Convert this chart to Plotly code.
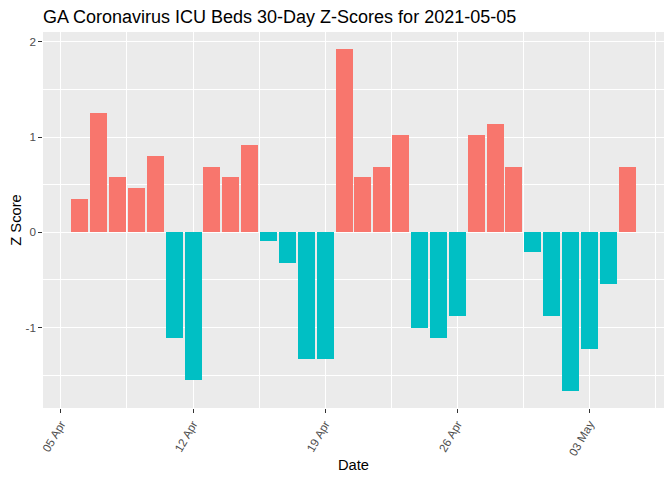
import plotly.graph_objects as go
import pandas as pd

dates = pd.date_range("2021-04-06", "2021-05-05", freq="D")
zscores = [0.35, 1.25, 0.58, 0.465, 0.80, -1.11, -1.55, 0.685, 0.58, 0.916,
           -0.09, -0.325, -1.33, -1.33, 1.923, 0.58, 0.685, 1.02, -1.0, -1.11,
           -0.88, 1.02, 1.136, 0.685, -0.21, -0.88, -1.665, -1.22, -0.545, 0.685]
tick_dates = ["2021-04-05", "2021-04-12", "2021-04-19", "2021-04-26", "2021-05-03"]
tick_labels = ["05 Apr", "12 Apr", "19 Apr", "26 Apr", "03 May"]

colors = ["#F8766D" if v >= 0 else "#00BFC4" for v in zscores]
day = pd.Timedelta(days=1)

fig = go.Figure(go.Bar(
    x=dates, y=zscores, width=0.9 * 86400000,
    marker=dict(color=colors, line=dict(width=0)),
    showlegend=False,
))

x0 = dates[0] - 0.45 * day
x1 = dates[-1] + 0.45 * day
pad = (x1 - x0) * 0.05
ymin, ymax = min(zscores), max(zscores)
ypad = (ymax - ymin) * 0.05

fig.update_layout(
    width=672, height=480,
    margin=dict(l=43, r=8, t=32, b=72),
    paper_bgcolor="white", plot_bgcolor="#EBEBEB",
    font=dict(family="Liberation Sans, Arial, sans-serif"),
    title=dict(text="GA Coronavirus ICU Beds 30-Day Z-Scores for 2021-05-05",
               x=43/672, xanchor="left", y=1 - 17/480, yanchor="middle",
               font=dict(size=18, color="black")),
    bargap=0,
)
fig.update_xaxes(
    automargin=False,
    range=[x0 - pad, x1 + pad],
    tickmode="array", tickvals=tick_dates, ticktext=tick_labels,
    tickangle=-60, tickfont=dict(size=11.7, color="#4D4D4D"),
    ticks="outside", ticklen=3.7, tickcolor="#333333", tickwidth=1,
    showgrid=True, gridcolor="white", gridwidth=1.1,
    minor=dict(tickmode="array",
               tickvals=["2021-04-08 12:00", "2021-04-15 12:00", "2021-04-22 12:00",
                         "2021-04-29 12:00", "2021-05-06 12:00"],
               showgrid=True, gridcolor="white", gridwidth=0.55, ticks=""),
    zeroline=False, showline=False,
    title=dict(text="Date", font=dict(size=14.7, color="black"), standoff=2),
)
fig.update_yaxes(
    automargin=False,
    range=[ymin - ypad, ymax + ypad],
    tickmode="array", tickvals=[-1, 0, 1, 2], ticktext=["-1", "0", "1", "2"],
    tickfont=dict(size=11.7, color="#4D4D4D"),
    ticks="outside", ticklen=3.7, tickcolor="#333333", tickwidth=1,
    showgrid=True, gridcolor="white", gridwidth=1.1,
    minor=dict(tickmode="array", tickvals=[-1.5, -0.5, 0.5, 1.5],
               showgrid=True, gridcolor="white", gridwidth=0.55, ticks=""),
    zeroline=False, showline=False,
    title=dict(text="Z Score", font=dict(size=14.7, color="black"), standoff=0),
)

fig.write_html("out.html",
               config={"displayModeBar": False},
               post_script="document.body.style.margin='0px';document.body.style.overflow='hidden';")
